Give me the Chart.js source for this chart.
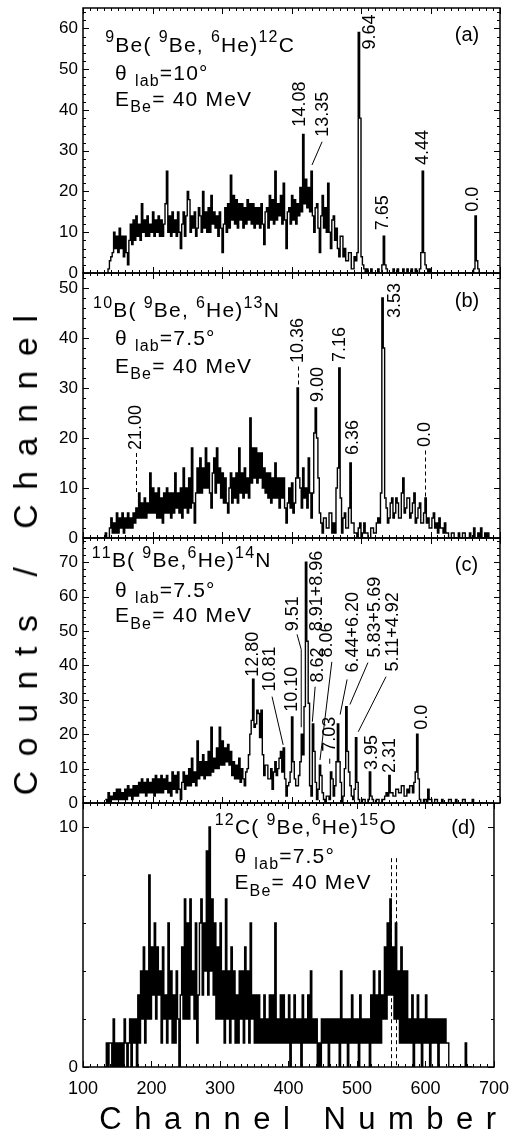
<!DOCTYPE html>
<html>
<head>
<meta charset="utf-8">
<title>(9Be,6He) spectra</title>
<script src="https://cdn.jsdelivr.net/npm/chart.js@4.4.1/dist/chart.umd.min.js"></script>
<style>
  body { margin: 0; background: #fff; }
  #page { position: relative; width: 520px; height: 1136px; overflow: hidden; background: #fff;
          font-family: "Liberation Sans", Arial, Helvetica, sans-serif; color: #000; }
  .panel { position: absolute; left: 0; width: 520px; }
  .axis-title { position: absolute; white-space: nowrap; line-height: 1; }
  #ytitle { left: 25px; top: 548px; font-size: 34px; letter-spacing: 14.5px;
            transform: translate(-50%, -50%) rotate(-90deg); }
  #xtitle { left: 304px; top: 1118px; font-size: 31px; letter-spacing: 12.5px;
            transform: translate(-50%, -50%); }
</style>
</head>
<body>
<div id="page">
  <div class="panel" style="top:-6px"><canvas id="panelA" width="520" height="293"></canvas></div>
  <div class="panel" style="top:259px"><canvas id="panelB" width="520" height="293"></canvas></div>
  <div class="panel" style="top:524px"><canvas id="panelC" width="520" height="293"></canvas></div>
  <div class="panel" style="top:789px"><canvas id="panelD" width="520" height="315"></canvas></div>
  <div id="ytitle" class="axis-title">Counts / Channel</div>
  <div id="xtitle" class="axis-title">Channel Number</div>
</div>
<script>
const FONT = '"Liberation Sans", Arial, Helvetica, sans-serif';

const BIN = 2;

// (a) 9Be(9Be,6He)12C, first bin at channel 132, one row = 20 channels
const startA = 132;
const countsA = [
  0, 0, 1, 3, 4, 5, 10, 6, 9, 5,           // 132
  11, 6, 9, 4, 9, 5, 2, 8, 12, 7,          // 152
  13, 8, 14, 9, 12, 8, 17, 10, 13, 9,      // 172
  14, 9, 12, 10, 15, 9, 13, 10, 14, 9,     // 192
  13, 9, 12, 17, 25, 10, 14, 9, 15, 10,    // 212
  13, 9, 15, 10, 6, 12, 15, 9, 14, 20,     // 232
  18, 10, 14, 11, 15, 9, 11, 16, 14, 10,   // 252
  20, 11, 15, 10, 16, 10, 19, 12, 15, 11,  // 272
  14, 9, 15, 11, 5, 12, 16, 10, 17, 11,    // 292
  24, 13, 19, 12, 18, 11, 17, 13, 17, 11,  // 312
  16, 12, 18, 13, 17, 12, 17, 11, 16, 12,  // 332
  16, 11, 17, 12, 7, 15, 16, 11, 19, 13,   // 352
  18, 12, 25, 13, 17, 14, 19, 12, 22, 13,  // 372
  6, 15, 16, 12, 19, 13, 18, 12, 17, 14,   // 392
  21, 15, 34, 17, 23, 16, 21, 15, 25, 14,  // 412
  10, 16, 17, 11, 5, 14, 19, 11, 16, 10,   // 432
  22, 10, 6, 13, 14, 8, 11, 6, 4, 9,       // 452
  9, 4, 6, 3, 3, 5, 5, 1, 1, 4,            // 472
  3, 5, 59, 38, 4, 2, 1, 0, 1, 0,          // 492
  0, 1, 0, 0, 0, 0, 1, 0, 0, 2,            // 512
  9, 2, 1, 0, 0, 0, 0, 1, 0, 0,            // 532
  1, 0, 0, 0, 1, 0, 0, 1, 0, 0,            // 552
  1, 0, 0, 1, 0, 0, 1, 5, 25, 5,           // 572
  2, 1, 0, 1, 0, 0, 0, 0, 0, 0,            // 592
  0, 0, 0, 0, 0, 0, 0, 0, 0, 0,            // 612
  0, 0, 0, 0, 0, 0, 0, 0, 0, 0,            // 632
  0, 0, 0, 0, 0, 1, 14, 3, 1, 0,           // 652
  0, 0, 0, 0                               // 672
];

// (b) 10B(9Be,6He)13N, first bin at channel 128
const startB = 128;
const countsB = [
  0, 0, 1, 0, 0, 2, 4, 1, 3, 1,            // 128
  5, 1, 4, 2, 5, 1, 4, 2, 5, 2,            // 148
  4, 2, 5, 3, 6, 4, 9, 4, 7, 4,            // 168
  8, 4, 7, 5, 13, 5, 10, 5, 9, 4,          // 188
  10, 4, 8, 3, 9, 5, 10, 5, 9, 4,          // 208
  9, 5, 13, 6, 9, 5, 10, 4, 14, 6,         // 228
  10, 5, 12, 6, 18, 7, 3, 9, 14, 9,        // 248
  16, 9, 14, 10, 18, 10, 15, 9, 6, 13,     // 268
  16, 9, 18, 11, 14, 8, 13, 7, 12, 7,      // 288
  5, 10, 13, 7, 12, 8, 13, 7, 18, 9,       // 308
  13, 8, 14, 9, 12, 8, 24, 11, 18, 12,     // 328
  18, 11, 17, 12, 17, 10, 14, 9, 13, 8,    // 348
  13, 7, 12, 8, 15, 8, 12, 6, 12, 8,       // 368
  12, 6, 3, 7, 10, 6, 11, 5, 7, 12,        // 388
  30, 12, 10, 6, 14, 8, 10, 6, 16, 9,      // 408
  4, 9, 21, 26, 20, 12, 5, 3, 1, 4,        // 428
  4, 2, 2, 5, 5, 1, 3, 1, 10, 14,          // 448
  34, 8, 1, 4, 5, 2, 2, 6, 15, 3,          // 468
  3, 1, 1, 0, 2, 3, 0, 1, 3, 1,            // 488
  1, 0, 0, 2, 2, 1, 1, 3, 4, 3,            // 508
  9, 48, 38, 8, 6, 3, 4, 7, 8, 4,          // 528
  5, 8, 7, 4, 4, 9, 12, 5, 6, 8,           // 548
  8, 4, 5, 7, 9, 3, 4, 6, 7, 3,            // 568
  3, 5, 8, 3, 4, 2, 2, 4, 5, 2,            // 588
  3, 1, 4, 2, 2, 1, 3, 1, 1, 0,            // 608
  0, 1, 1, 0, 0, 0, 1, 0, 0, 1,            // 628
  1, 0, 0, 0, 1, 0, 0, 2, 0, 0,            // 648
  1, 0, 2, 0, 0, 1, 0, 1, 0, 0             // 668
];

// (c) 11B(9Be,6He)14N, first bin at channel 132
const startC = 132;
const countsC = [
  1, 0, 3, 0, 2, 1, 3, 1, 4, 1,            // 132
  4, 1, 3, 1, 4, 1, 5, 2, 4, 1,            // 152
  5, 2, 5, 2, 6, 3, 7, 3, 6, 2,            // 172
  7, 3, 6, 3, 7, 2, 8, 3, 7, 3,            // 192
  8, 3, 7, 4, 8, 3, 6, 2, 9, 4,            // 212
  8, 3, 9, 4, 1, 6, 9, 4, 8, 5,            // 232
  10, 5, 13, 6, 9, 5, 18, 7, 12, 8,        // 252
  14, 7, 12, 8, 15, 8, 22, 9, 13, 10,      // 272
  16, 10, 22, 11, 18, 11, 16, 12, 17, 11,  // 292
  15, 8, 12, 7, 11, 7, 13, 6, 10, 7,       // 312
  5, 9, 10, 14, 20, 24, 36, 22, 23, 27,    // 332
  26, 19, 27, 14, 8, 11, 11, 7, 7, 10,     // 352
  4, 9, 12, 8, 10, 13, 15, 9, 16, 7,       // 372
  2, 5, 6, 9, 25, 12, 7, 5, 5, 8,          // 392
  12, 20, 14, 28, 70, 47, 29, 5, 2, 23,    // 412
  15, 6, 1, 4, 11, 8, 3, 1, 0, 2,          // 432
  2, 1, 9, 7, 2, 5, 12, 23, 12, 6,         // 452
  0, 2, 10, 28, 15, 9, 5, 2, 1, 4,         // 472
  19, 6, 1, 0, 0, 1, 1, 0, 0, 1,           // 492
  9, 2, 1, 0, 0, 1, 1, 0, 0, 1,            // 512
  1, 2, 3, 2, 8, 3, 3, 2, 2, 4,            // 532
  4, 3, 3, 5, 5, 2, 2, 4, 3, 5,            // 552
  5, 3, 6, 9, 20, 7, 1, 0, 0, 1,           // 572
  1, 0, 4, 1, 1, 0, 0, 1, 1, 0,            // 592
  0, 0, 1, 0, 0, 0, 0, 1, 1, 0,            // 612
  0, 0, 1, 0, 0, 0, 0, 1, 1, 0,            // 632
  0, 0, 0, 0, 1, 0, 0, 0, 0, 0,            // 652
  0, 0                                     // 672
];

// (d) 12C(9Be,6He)15O, first bin at channel 132
const startD = 132;
const countsD = [
  0, 1, 0, 1, 1, 0, 2, 0, 1, 0,            // 132
  1, 0, 1, 0, 2, 1, 0, 1, 2, 0,            // 152
  2, 1, 2, 0, 3, 1, 4, 2, 5, 1,            // 172
  4, 2, 8, 2, 5, 3, 6, 2, 5, 3,            // 192
  4, 1, 5, 2, 3, 1, 6, 2, 4, 1,            // 212
  3, 1, 4, 2, 0, 3, 5, 2, 7, 2,            // 232
  6, 2, 7, 3, 4, 2, 6, 1, 3, 6,            // 252
  7, 3, 6, 4, 9, 3, 10, 4, 7, 3,           // 272
  6, 2, 5, 2, 6, 2, 4, 1, 7, 2,            // 292
  4, 1, 5, 2, 4, 1, 3, 1, 4, 2,            // 312
  4, 1, 5, 2, 4, 1, 6, 2, 3, 1,            // 332
  3, 1, 3, 1, 2, 1, 3, 1, 2, 1,            // 352
  3, 1, 3, 1, 6, 1, 2, 1, 3, 1,            // 372
  3, 1, 2, 1, 3, 0, 2, 1, 3, 1,            // 392
  2, 1, 2, 0, 3, 1, 2, 1, 3, 1,            // 412
  4, 1, 2, 1, 2, 0, 1, 0, 2, 1,            // 432
  2, 1, 2, 0, 2, 1, 2, 1, 2, 1,            // 452
  2, 0, 4, 1, 2, 1, 2, 0, 2, 1,            // 472
  3, 1, 2, 1, 2, 0, 3, 1, 2, 1,            // 492
  2, 1, 2, 0, 3, 1, 4, 1, 3, 1,            // 512
  4, 1, 3, 2, 5, 2, 6, 3, 7, 3,            // 532
  5, 2, 6, 2, 4, 1, 5, 1, 4, 1,            // 552
  4, 1, 2, 1, 3, 0, 2, 1, 3, 1,            // 572
  2, 0, 2, 1, 3, 1, 2, 0, 2, 1,            // 592
  2, 1, 2, 0, 2, 1, 2, 1, 2, 1,            // 612
  1, 0, 0, 0, 0, 0, 0, 0, 0, 0,            // 632
  0, 0, 0, 1, 0, 0, 0, 0                   // 652
];

// axis ranges of the four panels
const yMaxA = 65, yMaxB = 53, yMaxC = 77, yMaxD = 11;
const xTicks = [100, 200, 300, 400, 500, 600, 700];

// text: [segments, channel, counts]; segment mode 0 normal, 1 superscript, 2 subscript
const energyLine = [['E', 0], ['Be', 2], ['= 40 MeV', 0]];
const reactionA = [['9', 1], ['Be( ', 0], ['9', 1], ['Be, ', 0], ['6', 1], ['He)', 0], ['12', 1], ['C', 0]];
const reactionB = [['10', 1], ['B( ', 0], ['9', 1], ['Be, ', 0], ['6', 1], ['He)', 0], ['13', 1], ['N', 0]];
const reactionC = [['11', 1], ['B( ', 0], ['9', 1], ['Be,', 0], ['6', 1], ['He)', 0], ['14', 1], ['N', 0]];
const reactionD = [['12', 1], ['C( ', 0], ['9', 1], ['Be,', 0], ['6', 1], ['He)', 0], ['15', 1], ['O', 0]];
const angle10 = [['θ ', 0], ['lab', 2], ['=10°', 0]];
const angle75 = [['θ ', 0], ['lab', 2], ['=7.5°', 0]];

// peak labels: [text, channel, counts at the start of the vertical text]
const peaksA = [['9.64', 513, 54.8], ['14.08', 412, 35.9], ['13.35', 445, 33.4],
                ['7.65', 532, 10.5], ['4.44', 589, 26.5], ['0.0', 661, 15]];
const peaksB = [['21.00', 176, 17.6], ['10.36', 409, 35], ['9.00', 438, 27.2], ['7.16', 470, 35.2],
                ['6.36', 488, 16.6], ['3.53', 549, 44], ['0.0', 592, 18.2]];
const peaksC = [['12.80', 345, 36.7], ['10.81', 369, 32.4], ['10.10', 401, 26.5], ['9.51', 402, 49.9],
                ['8.91+8.96', 437, 49.9], ['8.62', 438, 35], ['8.06', 451, 42.3], ['7.03', 455, 14.9],
                ['6.44+6.20', 488, 37.9], ['5.83+5.69', 520, 42.3], ['5.11+4.92', 546, 38.2],
                ['3.95', 516, 9.6], ['2.31', 542, 8.7], ['0.0', 588, 21.3]];

// leader lines [[channel, counts], ...] and dashed markers [channel, from, to]
const leadersA = [[[444, 32.2], [429.5, 26.5]]];
const leadersC = [
  [[372, 30.9], [388, 16.9]],
  [[408, 49], [414, 44.6], [414, 22]],
  [[434, 33.8], [430, 23.6]],
  [[458, 41], [441, 12.5]],
  [[455, 12.9], [455, 11.4]],
  [[480, 35.9], [470, 25.7]],
  [[510, 40.8], [484, 28.6]],
  [[536, 36.7], [496, 20.7]]
];
const dashesB = [[176, 17, 9], [409, 34.3, 30.5], [592, 17.5, 8]];
const dashesD = [[550, 8.7, 0], [557, 8.7, 0]];

function buildPoints(start, counts) {
  const pts = counts.map((c, i) => ({ x: start + i * BIN, y: c }));
  pts.push({ x: start + counts.length * BIN, y: 0 });
  return pts;
}

// reaction / angle / energy lines, drawn glyph by glyph with a little extra spacing
function drawRich(ctx, x, y, segs, size, gap) {
  let cx = x;
  ctx.textAlign = 'left';
  ctx.textBaseline = 'alphabetic';
  segs.forEach(([t, mode]) => {
    const fs = mode ? Math.round(size * 0.76) : size;
    ctx.font = fs + 'px ' + FONT;
    const dy = mode === 1 ? -size * 0.45 : mode === 2 ? size * 0.3 : 0;
    for (const ch of t) {
      ctx.fillText(ch, cx, y + dy);
      cx += ctx.measureText(ch).width + gap;
    }
  });
}

// box round the plot area with inward ticks on all four sides
const framePlugin = {
  id: 'frame',
  afterDatasetsDraw(chart) {
    const { ctx, chartArea: a, scales: { x, y } } = chart;
    ctx.save();
    ctx.strokeStyle = '#000';
    ctx.lineWidth = 1;
    ctx.beginPath();
    for (let c = 100; c <= 700; c += 10) {
      const px = Math.round(x.getPixelForValue(c)) + 0.5;
      const len = c % 100 === 0 ? 6 : 3;
      ctx.moveTo(px, a.bottom); ctx.lineTo(px, a.bottom - len);
      ctx.moveTo(px, a.top); ctx.lineTo(px, a.top + len);
    }
    for (let v = 0; v <= y.max; v += 2) {
      const py = Math.round(y.getPixelForValue(v)) + 0.5;
      const len = v % 10 === 0 ? 6 : 3;
      ctx.moveTo(a.left, py); ctx.lineTo(a.left + len, py);
      ctx.moveTo(a.right, py); ctx.lineTo(a.right - len, py);
    }
    ctx.stroke();
    ctx.lineWidth = 1.5;
    ctx.strokeRect(a.left, a.top, a.right - a.left, a.bottom - a.top);
    ctx.restore();
  }
};

function makeMarks(m) {
  return {
    id: 'marks',
    afterDatasetsDraw(chart) {
      const { ctx, scales: { x, y } } = chart;
      const px = v => x.getPixelForValue(v);
      const py = v => y.getPixelForValue(v);
      ctx.save();
      ctx.fillStyle = '#000';
      ctx.strokeStyle = '#000';
      ctx.lineWidth = 1;
      m.text.forEach(([segs, cx, cy]) => drawRich(ctx, px(cx), py(cy), segs, 21, 1.2));
      ctx.font = '20px ' + FONT;
      ctx.fillText(m.tag[0], px(m.tag[1]), py(m.tag[2]));
      ctx.font = '18px ' + FONT;
      ctx.textBaseline = 'middle';
      (m.peaks || []).forEach(([t, cx, cy]) => {
        ctx.save();
        ctx.translate(px(cx), py(cy));
        ctx.rotate(-Math.PI / 2);
        ctx.fillText(t, 0, 0);
        ctx.restore();
      });
      (m.leaders || []).forEach(path => {
        ctx.beginPath();
        path.forEach(([cx, cy], i) => i ? ctx.lineTo(px(cx), py(cy)) : ctx.moveTo(px(cx), py(cy)));
        ctx.stroke();
      });
      ctx.setLineDash([4, 3]);
      (m.dashes || []).forEach(([cx, y0, y1]) => {
        ctx.beginPath();
        ctx.moveTo(Math.round(px(cx)) + 0.5, py(y0));
        ctx.lineTo(Math.round(px(cx)) + 0.5, py(y1));
        ctx.stroke();
      });
      ctx.restore();
    }
  };
}

function makePanel(id, start, counts, yMax, marks, isBottom) {
  return new Chart(document.getElementById(id), {
    type: 'line',
    data: {
      datasets: [{
        data: buildPoints(start, counts),
        stepped: true,
        borderColor: '#000',
        borderWidth: 1.4,
        pointRadius: 0,
        fill: false
      }]
    },
    options: {
      responsive: false,
      animation: false,
      devicePixelRatio: 1,
      layout: { padding: { left: 0, right: 20, top: 14, bottom: isBottom ? 5 : 14 } },
      plugins: { legend: { display: false }, tooltip: { enabled: false } },
      scales: {
        x: {
          type: 'linear', min: xTicks[0], max: xTicks[xTicks.length - 1], display: isBottom,
          grid: { display: false, drawTicks: false }, border: { display: false },
          afterBuildTicks: s => { s.ticks = xTicks.map(v => ({ value: v })); },
          ticks: { color: '#000', font: { size: 18, family: FONT }, padding: 11, maxRotation: 0 },
          afterFit: s => { s.height = isBottom ? 32 : 0; }
        },
        y: {
          min: 0, max: yMax,
          grid: { display: false, drawTicks: false }, border: { display: false },
          ticks: { stepSize: 10, includeBounds: false, color: '#000', font: { size: 17, family: FONT }, padding: 5 },
          afterFit: s => { s.width = 83; s.paddingTop = 0; s.paddingBottom = 0; }
        }
      }
    },
    plugins: [framePlugin, makeMarks(marks)]
  });
}

makePanel('panelA', startA, countsA, yMaxA, {
  text: [[reactionA, 132, 54.3], [angle10, 146, 47.4], [energyLine, 146, 41]],
  tag: ['(a)', 635, 56.8], peaks: peaksA, leaders: leadersA
}, false);

makePanel('panelB', startB, countsB, yMaxB, {
  text: [[reactionB, 114.5, 44.2], [angle75, 146, 38.6], [energyLine, 146, 33]],
  tag: ['(b)', 635, 46.2], peaks: peaksB, dashes: dashesB
}, false);

makePanel('panelC', startC, countsC, yMaxC, {
  text: [[reactionC, 112.5, 68.5], [angle75, 146, 60], [energyLine, 146, 52.5]],
  tag: ['(c)', 635, 67.3], peaks: peaksC, leaders: leadersC
}, false);

makePanel('panelD', startD, countsD, yMaxD, {
  text: [[reactionD, 292.3, 9.7], [angle75, 321, 8.5], [energyLine, 321, 7.4]],
  tag: ['(d)', 637.6, 9.7], dashes: dashesD
}, true);
</script>
</body>
</html>
